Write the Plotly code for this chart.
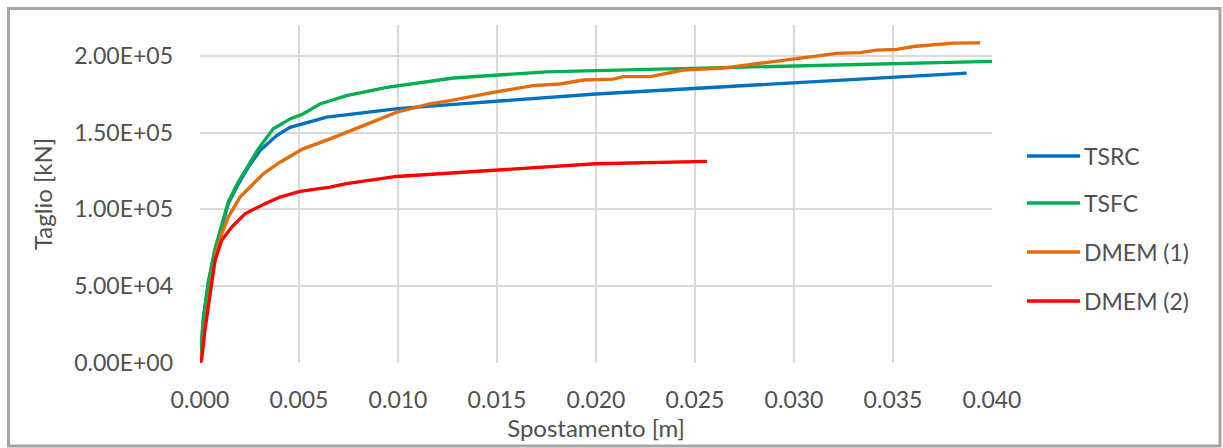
import plotly.graph_objects as go

# Shear vs. displacement curves
tsrc_x = [0, 0.00017, 0.00042, 0.00076, 0.0011, 0.00143, 0.00194, 0.00244, 0.00303, 0.00387,
          0.00455, 0.0064, 0.0100, 0.01263, 0.0200, 0.02727, 0.0300, 0.0350, 0.03872]
tsrc_y = [0, 28000, 51700, 73400, 88500, 103700, 116600, 127500, 138300, 148000,
          153400, 160000, 165500, 168200, 175100, 180500, 182500, 185800, 188700]

tsfc_x = [0, 0.00017, 0.00042, 0.00076, 0.0011, 0.00143, 0.00194, 0.00244, 0.00295, 0.0037,
          0.00455, 0.0052, 0.00606, 0.0074, 0.00943, 0.0128, 0.015, 0.0175, 0.020, 0.02727,
          0.0350, 0.0400]
tsfc_y = [0, 30000, 53000, 74500, 90000, 105000, 118000, 128500, 139500, 152400,
          158900, 162100, 168600, 174000, 179400, 185500, 187600, 189500, 190300, 192400,
          194600, 196300]

dmem1_x = [0, 0.00008, 0.00025, 0.00042, 0.00059, 0.00084, 0.0011, 0.00143, 0.00202, 0.0032,
           0.00404, 0.0052, 0.00657, 0.00825, 0.00993, 0.0116, 0.01263, 0.01481, 0.01682,
           0.01818, 0.01936, 0.02087, 0.02138, 0.02273, 0.0244, 0.02643, 0.02778, 0.02828,
           0.02997, 0.03216, 0.03333, 0.03418, 0.0352, 0.03603, 0.03805, 0.0394]
dmem1_y = [0, 5000, 24000, 40000, 55000, 73000, 84200, 95000, 108000, 123200,
           130700, 139400, 145900, 154500, 163200, 168600, 170800, 176200, 180500,
           181600, 184200, 184800, 186400, 186400, 190700, 192000, 194300, 195300,
           198300, 201500, 202000, 203600, 204100, 206000, 208200, 208400]

dmem2_x = [0, 0.00008, 0.00025, 0.00042, 0.00059, 0.00076, 0.0011, 0.0016, 0.00227, 0.00328,
           0.00404, 0.00505, 0.00657, 0.0074, 0.00993, 0.01263, 0.01414, 0.0200, 0.0256]
dmem2_y = [0, 1900, 21400, 36600, 51700, 66900, 79900, 88500, 97100, 103700,
           108000, 111700, 114500, 116700, 121400, 123600, 125300, 129700, 131200]

series_names = ["TSRC", "TSFC", "DMEM (1)", "DMEM (2)"]
series_colors = ["#0070C0", "#00B050", "#E36C09", "#FF0000"]
series_x = [tsrc_x, tsfc_x, dmem1_x, dmem2_x]
series_y = [tsrc_y, tsfc_y, dmem1_y, dmem2_y]

x_tickvals = [0.000, 0.005, 0.010, 0.015, 0.020, 0.025, 0.030, 0.035, 0.040]
x_ticktext = ["0.000", "0.005", "0.010", "0.015", "0.020", "0.025", "0.030", "0.035", "0.040"]
y_tickvals = [0, 50000, 100000, 150000, 200000]
y_ticktext = ["0.00E+00", "5.00E+04", "1.00E+05", "1.50E+05", "2.00E+05"]

FONT = "Lato"
TEXT = "#505050"
GRID = "#D9D9D9"
TICK_SIZE = 23
TITLE_SIZE = 24

W, H = 1223, 448
L, R, T, B = 200, 231, 25, 85
pw, ph = W - L - R, H - T - B


def px_to_paper(px, py):
    return (px - L) / pw, (H - B - py) / ph


fig = go.Figure()
for name, color, xs, ys in zip(series_names, series_colors, series_x, series_y):
    fig.add_trace(go.Scatter(x=xs, y=ys, mode="lines", name=name,
                             line=dict(color=color, width=3.3, shape="linear"),
                             showlegend=False))

# legend drawn as line samples + labels on the right
shapes = []
annotations = []
legend_rows = [156, 203, 252, 301]
for name, color, row in zip(series_names, series_colors, legend_rows):
    x0, y0 = px_to_paper(1027, row)
    x1, _ = px_to_paper(1080, row)
    shapes.append(dict(type="line", xref="paper", yref="paper", x0=x0, x1=x1, y0=y0, y1=y0,
                       line=dict(color=color, width=3.5)))
    tx, _ = px_to_paper(1082, row)
    annotations.append(dict(xref="paper", yref="paper", x=tx, y=y0, text=name, showarrow=False,
                            xanchor="left", yanchor="middle",
                            font=dict(family=FONT, size=TICK_SIZE, color=TEXT)))

# chart frame
bx0, by0 = px_to_paper(8.5, 446)
bx1, by1 = px_to_paper(1220, 8.5)
shapes.append(dict(type="rect", xref="paper", yref="paper", x0=bx0, x1=bx1, y0=by0, y1=by1,
                   line=dict(color="#A6A6A6", width=3), layer="above"))

fig.update_layout(
    width=W, height=H,
    margin=dict(l=L, r=R, t=T, b=B),
    paper_bgcolor="white", plot_bgcolor="white",
    font=dict(family=FONT, size=TICK_SIZE, color=TEXT),
    shapes=shapes, annotations=annotations,
    showlegend=False,
)
fig.update_xaxes(range=[0, 0.040], tickvals=x_tickvals, ticktext=x_ticktext,
                 showgrid=True, gridcolor=GRID, gridwidth=2, zeroline=False,
                 showline=False, ticks="", ticklabelstandoff=21,
                 tickfont=dict(family=FONT, size=TICK_SIZE, color=TEXT),
                 title=dict(text="Spostamento [m]", standoff=6,
                            font=dict(family=FONT, size=TITLE_SIZE, color=TEXT)))
fig.update_yaxes(range=[0, 220000], tickvals=y_tickvals, ticktext=y_ticktext,
                 showgrid=True, gridcolor=GRID, gridwidth=2, zeroline=False,
                 showline=False, ticks="", ticklabelstandoff=26,
                 tickfont=dict(family=FONT, size=TICK_SIZE, color=TEXT),
                 title=dict(text="Taglio [kN]", standoff=14,
                            font=dict(family=FONT, size=TITLE_SIZE, color=TEXT)))

fig.write_html("out.html")
